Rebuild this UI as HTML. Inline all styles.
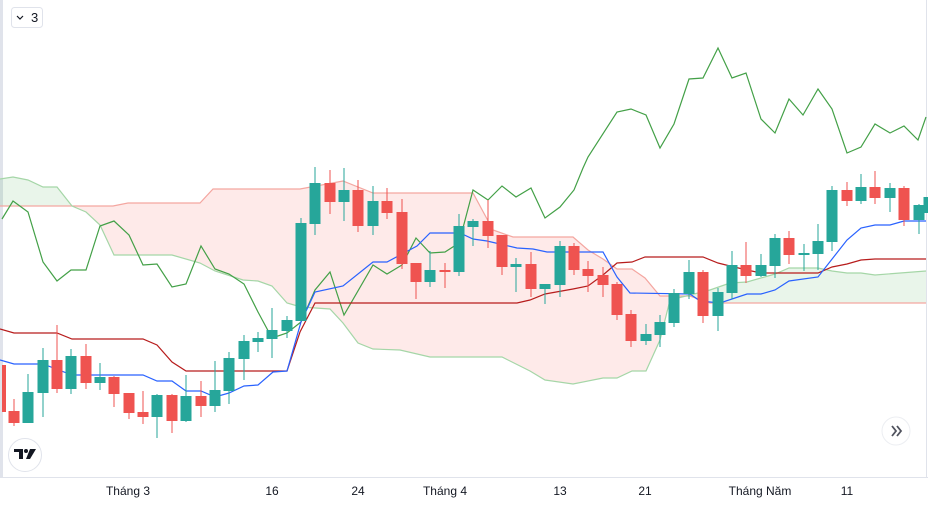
<!DOCTYPE html>
<html><head><meta charset="utf-8"><style>
html,body{margin:0;padding:0;background:#fff;width:928px;height:506px;overflow:hidden;font-family:"Liberation Sans",sans-serif}
</style></head><body>
<svg width="928" height="506" viewBox="0 0 928 506" xmlns="http://www.w3.org/2000/svg">
<defs>
<clipPath id="belowA"><polygon points="0,506 0,179 13,177 28,180 43,187 57,187 72,206 86,212 100,225 114,255 172,255 200,263 215,271 243,280 258,281 272,286 287,303 301,307 330,309 343,323 358,343 373,349 400,350 430,357 502,357 530,371 545,380 573,384 603,378 617,378 632,371 646,371 660,340 670,300 690,295 710,290 730,283 747,282 775,274 789,268 818,268 832,271 847,273 861,273 875,275 926,271 926,506"/></clipPath>
<clipPath id="aboveA"><polygon points="0,0 0,179 13,177 28,180 43,187 57,187 72,206 86,212 100,225 114,255 172,255 200,263 215,271 243,280 258,281 272,286 287,303 301,307 330,309 343,323 358,343 373,349 400,350 430,357 502,357 530,371 545,380 573,384 603,378 617,378 632,371 646,371 660,340 670,300 690,295 710,290 730,283 747,282 775,274 789,268 818,268 832,271 847,273 861,273 875,275 926,271 926,0"/></clipPath>
</defs>
<rect x="0" y="0" width="3" height="477" fill="#e0e3eb"/>
<line x1="926.5" y1="0" x2="926.5" y2="477" stroke="#e0e3eb"/>
<line x1="0" y1="477.5" x2="928" y2="477.5" stroke="#e0e3eb"/>
<polygon clip-path="url(#aboveA)" fill="rgba(244,67,54,0.11)" points="0,206 113,206 128,203 200,203 213,189 300,189 343,181 373,193 473,193 493,230 513,237 573,237 588,250 603,259 617,269 632,269 645,278 660,296 690,296 710,303 926,303 926,506 0,506"/>
<polygon clip-path="url(#belowA)" fill="rgba(76,175,80,0.12)" points="0,206 113,206 128,203 200,203 213,189 300,189 343,181 373,193 473,193 493,230 513,237 573,237 588,250 603,259 617,269 632,269 645,278 660,296 690,296 710,303 926,303 926,0 0,0"/>
<polyline fill="none" stroke="#f4a6a0" stroke-width="1.2" points="0,206 113,206 128,203 200,203 213,189 300,189 343,181 373,193 473,193 493,230 513,237 573,237 588,250 603,259 617,269 632,269 645,278 660,296 690,296 710,303 926,303"/>
<polyline fill="none" stroke="#a5d6a7" stroke-width="1.2" points="0,179 13,177 28,180 43,187 57,187 72,206 86,212 100,225 114,255 172,255 200,263 215,271 243,280 258,281 272,286 287,303 301,307 330,309 343,323 358,343 373,349 400,350 430,357 502,357 530,371 545,380 573,384 603,378 617,378 632,371 646,371 660,340 670,300 690,295 710,290 730,283 747,282 775,274 789,268 818,268 832,271 847,273 861,273 875,275 926,271"/>
<polyline fill="none" stroke="#43a047" stroke-width="1.2" points="2,219 13,201 28,212 43,262 57,281 71,270 86,270 100,226 114,221 129,235 143,265 157,264 172,287 186,284 201,246 215,269 229,274 244,284 258,312 272,338 287,333 301,322 315,290 330,272 344,315 373,265 387,274 402,265 416,238 430,253 445,252 459,243 473,190 488,200 502,186 516,197 531,188 545,218 560,207 574,190 583,168 588,157 617,112 631,109 646,115 660,148 674,124 689,79 703,78 718,48 732,78 746,73 761,119 775,133 789,99 803,115 818,89 832,109 847,153 861,147 875,124 890,133 904,126 918,140 926,117"/>
<polyline fill="none" stroke="#b71c1c" stroke-width="1.2" points="0,329 14,333 57,333 72,339 143,339 157,345 172,362 186,371 287,371 300,332 315,303 517,303 530,300 545,294 573,289 588,286 603,275 617,263 632,262 645,257 703,257 718,263 730,266 747,270 761,273 818,273 832,267 847,264 861,260 875,259 926,259"/>
<polyline fill="none" stroke="#2962ff" stroke-width="1.2" points="0,360 14,364 43,364 72,375 143,375 157,381 172,381 186,391 201,391 215,397 229,393 244,386 258,385 273,372 287,371 301,322 315,292 343,286 373,262 387,262 417,246 430,233 460,233 473,239 487,241 517,248 533,249 547,252 603,252 617,277 630,293 690,294 700,301 720,303 747,294 761,294 775,290 789,281 818,277 847,240 861,228 875,225 890,225 904,221 926,221"/>
<g id="candles"></g>
<rect x="11.5" y="7.5" width="31" height="20" rx="3" fill="#fff" stroke="#e0e3eb"/>
<path d="M17 16 l3 3 l3 -3" fill="none" stroke="#131722" stroke-width="1.2"/>
<text x="31" y="22" font-size="13" fill="#131722">3</text>
<circle cx="25" cy="455" r="16.5" fill="#fff" stroke="#e0e3eb"/>
<path d="M14 449 h9 v10 h-4 v-7 h-5z" fill="#131722"/>
<circle cx="26" cy="451" r="2" fill="#131722"/>
<path d="M30 449 h6 l-6 10 h-4z" fill="#131722"/>
<circle cx="896" cy="431" r="14" fill="#fff" stroke="#eceef2"/>
<path d="M892 426 l4 5 l-4 5 M897 426 l4 5 l-4 5" fill="none" stroke="#50535e" stroke-width="1.8"/>
<g font-size="12" fill="#131722" text-anchor="middle">
<text x="128" y="495">Tháng 3</text>
<text x="272" y="495">16</text>
<text x="358" y="495">24</text>
<text x="445" y="495">Tháng 4</text>
<text x="560" y="495">13</text>
<text x="645" y="495">21</text>
<text x="760" y="495">Tháng Năm</text>
<text x="847" y="495">11</text>
</g>
</svg>
<script>
var c=[[14,411,423,399,426,'r'],[28,392,423,374,423,'g'],[43,360,393,348,417,'g'],[57,360,389,325,393,'r'],[71,356,389,349,394,'g'],[86,356,383,344,389,'r'],[100,377,383,363,390,'g'],[114,377,394,376,407,'r'],[129,393,413,393,419,'r'],[143,412,417,391,424,'r'],[157,395,417,394,438,'g'],[172,395,421,394,433,'r'],[186,396,421,375,422,'g'],[201,396,406,381,417,'r'],[215,390,406,361,412,'g'],[229,358,391,352,404,'g'],[244,341,359,335,380,'g'],[258,338,342,332,352,'g'],[272,330,339,308,358,'g'],[287,320,331,316,338,'g'],[301,223,321,218,321,'g'],[315,183,224,167,235,'g'],[330,183,202,170,214,'r'],[344,190,202,168,221,'g'],[358,190,226,180,232,'r'],[373,201,226,186,235,'g'],[387,201,213,188,219,'r'],[402,212,264,199,269,'r'],[416,263,282,263,299,'r'],[430,270,282,251,287,'g'],[445,270,272,263,288,'r'],[459,226,272,214,276,'g'],[473,221,227,219,246,'g'],[488,221,236,200,248,'r'],[502,235,267,235,275,'r'],[516,264,267,258,292,'g'],[531,264,289,252,297,'r'],[545,284,289,284,304,'g'],[560,246,285,241,297,'g'],[574,246,270,243,275,'r'],[588,269,276,261,292,'r'],[603,275,285,267,297,'r'],[617,284,315,282,320,'r'],[631,314,341,310,347,'r'],[646,334,341,324,345,'g'],[660,322,335,315,347,'g'],[674,293,323,289,327,'g'],[689,272,294,260,299,'g'],[703,272,316,270,323,'r'],[718,292,316,288,331,'g'],[732,265,293,251,299,'g'],[746,265,276,242,283,'r'],[761,265,276,254,277,'g'],[775,238,266,234,278,'g'],[789,238,255,231,264,'r'],[804,253,255,244,271,'g'],[818,241,254,224,270,'g'],[832,190,242,186,251,'g'],[847,190,201,182,206,'r'],[861,187,201,174,204,'g'],[875,187,198,171,204,'r'],[890,188,198,183,212,'g'],[904,188,220,186,226,'r'],[919,205,220,204,234,'g'],[929,197,213,195,215,'g']];
var s='<rect x="2" y="365" width="4" height="47" fill="#ef5350"/>';
c.forEach(function(d){var col=d[5]=='g'?'#26a69a':'#ef5350';
s+='<rect x="'+(d[0]-0.5)+'" y="'+d[3]+'" width="1" height="'+(d[4]-d[3])+'" fill="'+col+'"/>';
s+='<rect x="'+(d[0]-5.5)+'" y="'+d[1]+'" width="11" height="'+Math.max(2,d[2]-d[1])+'" fill="'+col+'"/>';});
document.getElementById('candles').innerHTML=s;
</script>
</body></html>
